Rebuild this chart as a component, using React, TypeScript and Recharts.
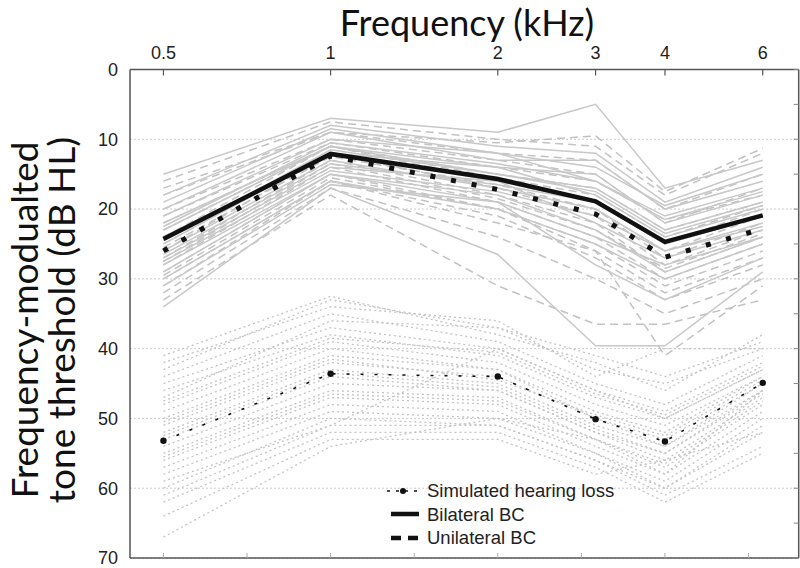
import {
  LineChart,
  Line,
  XAxis,
  YAxis,
  CartesianGrid,
  Legend,
} from 'recharts';

const FREQS = [0.5, 1, 2, 3, 4, 6];
const FREQ_LABELS = ['0.5', '1', '2', '3', '4', '6'];
const BOTTOM_TICKS = [-1, -0.5, 0, 0.5, 1, 1.5, 2, 2.5]; // half-octave marks, log2(kHz)
const Y_TICKS = [0, 10, 20, 30, 40, 50, 60, 70];
const RIGHT_TICKS = [0, 5, 10, 15, 20, 25, 30, 35, 40, 45, 50, 55, 60, 65, 70];

// group means (dB HL) at each frequency
const bilateralMean = [24.3, 12.1, 15.7, 18.9, 24.7, 20.9];
const unilateralMean = [26.0, 12.4, 17.2, 20.7, 26.9, 22.8];
const simulatedMean = [53.2, 43.6, 44.0, 50.1, 53.3, 44.9];

// individual listeners, bilateral BC (solid grey)
const bilateralIndividuals = [
  [15, 7, 9, 5, 17, 13],
  [18, 8, 11, 12, 19, 14],
  [19, 8.5, 12, 14, 19.5, 15],
  [20, 9, 13, 13, 20, 16],
  [21, 10, 12, 16, 21, 17],
  [22, 11, 14, 15, 22, 18],
  [22.5, 10.5, 13.5, 16, 21.5, 17.5],
  [23, 11, 15, 17, 23, 19],
  [24, 12, 14, 18, 24, 20],
  [24.5, 11.5, 15, 17.5, 23.5, 19.5],
  [25, 12, 16, 19, 25, 21],
  [26, 13, 17, 20, 26, 22],
  [26.5, 13.5, 16.5, 19, 25, 21],
  [27, 14, 16, 22, 27, 23],
  [27.5, 14.5, 17.5, 21, 26, 22.5],
  [28, 15, 18, 23, 29, 24],
  [30, 16, 20, 25, 30, 25],
  [31, 16.5, 19, 24, 28, 24],
  [29, 15, 19, 28, 33, 27],
  [34, 17, 26.5, 39.6, 39.6, 29],
];

// individual listeners, unilateral BC (dashed grey)
const unilateralIndividuals = [
  [16, 7.5, 10, 11, 18, 12],
  [17, 9, 10.5, 9.5, 17.5, 11.3],
  [18, 9, 12, 13, 20, 15],
  [20, 10, 13, 15, 22, 17],
  [21, 10.5, 14, 16, 21.5, 18],
  [22, 11, 15, 17, 23, 19],
  [23, 11, 15.5, 18, 24, 19.5],
  [24, 11, 16, 19, 25, 20],
  [25, 12, 17, 20, 27, 22],
  [25.5, 12.5, 16.5, 20, 26, 21],
  [26, 12, 17, 21, 28, 23],
  [27, 13, 18, 22, 29, 24],
  [27.5, 13.5, 18.5, 23, 28.5, 23.5],
  [28, 14, 19, 24, 30, 25],
  [29, 15, 20, 25, 31, 26],
  [29.5, 15.5, 20, 26, 32, 27],
  [30, 16, 21, 27, 33, 28],
  [32, 17, 24, 30, 35, 30],
  [31, 16, 22, 26, 41, 31],
  [33, 18, 31, 36.5, 36.5, 33],
];

// individual listeners, simulated hearing loss (dotted grey)
const simulatedIndividuals = [
  [41, 32.5, 38, 42, 46, 38],
  [42, 34, 36, 44, 40, 40],
  [43, 33, 37, 43, 45, 40],
  [44, 35, 39, 45, 48, 41],
  [45, 37, 40, 46, 49, 42],
  [46, 38, 41, 47, 50, 43],
  [47, 36, 37, 41, 44, 39],
  [47.5, 38.5, 40.5, 46.5, 49.5, 42.5],
  [48, 39, 42, 48, 51, 44],
  [49, 40, 43, 49, 52, 44],
  [50, 41, 43, 50, 53, 45],
  [50.5, 41.5, 44.5, 49.5, 52.5, 44.5],
  [51, 42, 44, 50, 54, 45],
  [52, 43, 45, 51, 54, 46],
  [52.5, 43.5, 45.5, 51.5, 55, 46.5],
  [53, 44, 46, 52, 55, 46],
  [54, 45, 46, 52, 56, 47],
  [55, 46, 47, 53, 57, 48],
  [55.5, 46.5, 47.5, 53, 56.5, 47.5],
  [56, 47, 48, 54, 58, 49],
  [57, 48, 49, 55, 59, 50],
  [58, 49, 50, 55, 60, 52],
  [59, 51, 40, 46, 50, 43],
  [60, 50, 51, 56, 61, 54],
  [61, 51, 51, 56, 60, 51],
  [62, 52, 52, 57, 62, 55],
  [64, 53, 53, 58, 56, 52],
  [67, 54, 50, 53, 58, 46],
];

const LEGEND_ITEMS = ['Simulated hearing loss', 'Bilateral BC', 'Unilateral BC'];

const data = FREQS.map((f, i) => {
  const row: Record<string, number> = {
    x: Math.log2(f),
    bilateral: bilateralMean[i],
    unilateral: unilateralMean[i],
    simulated: simulatedMean[i],
  };
  bilateralIndividuals.forEach((s, j) => (row[`b${j}`] = s[i]));
  unilateralIndividuals.forEach((s, j) => (row[`u${j}`] = s[i]));
  simulatedIndividuals.forEach((s, j) => (row[`s${j}`] = s[i]));
  return row;
});

const xTicks = FREQS.map((f) => Math.log2(f));
const freqLabel = (v: number) => FREQ_LABELS[xTicks.findIndex((t) => Math.abs(t - v) < 1e-6)] ?? '';
const blank = () => '';

const AXIS = '#555';
const tickFont = { fill: '#222', fontSize: 18, fontFamily: 'Liberation Sans, Arial, sans-serif' };

const LegendBox = () => (
  <div style={{ fontFamily: 'Liberation Sans, Arial, sans-serif', fontSize: 18.5, color: '#222', lineHeight: '23.5px' }}>
    {LEGEND_ITEMS.map((label, i) => (
      <div key={label} style={{ display: 'flex', alignItems: 'center' }}>
        <svg width={40} height={20} style={{ marginRight: 4 }}>
          {i === 0 && (
            <>
              <line x1={4} y1={10} x2={36} y2={10} stroke="#111" strokeWidth={1.5} strokeDasharray="3 6" />
              <circle cx={20} cy={10} r={3} fill="#111" />
            </>
          )}
          {i === 1 && <line x1={8} y1={10} x2={36} y2={10} stroke="#111" strokeWidth={4.5} />}
          {i === 2 && <line x1={8} y1={10} x2={36} y2={10} stroke="#111" strokeWidth={4.5} strokeDasharray="10 7" />}
        </svg>
        <span>{label}</span>
      </div>
    ))}
  </div>
);

export default function App() {
  return (
    <div style={{ position: 'relative', width: 800, height: 568, background: '#fff' }}>
      <style>{'body{margin:0;}'}</style>
      <LineChart width={800} height={568} data={data} margin={{ top: 39.5, right: 1.3, bottom: 9, left: 0 }}>
        <CartesianGrid vertical={false} stroke="#cdcdcd" strokeDasharray="2 2" />
        <XAxis
          dataKey="x"
          type="number"
          orientation="top"
          domain={[-1.2, 2.8]}
          ticks={xTicks}
          tickFormatter={freqLabel}
          height={30}
          tick={tickFont}
          tickLine={false}
          tickSize={6}
          tickMargin={5}
          axisLine={{ stroke: AXIS, strokeWidth: 1.5 }}
          allowDataOverflow
        />
        <XAxis
          xAxisId="topIn"
          dataKey="x"
          type="number"
          orientation="top"
          mirror
          domain={[-1.2, 2.8]}
          ticks={xTicks}
          tickFormatter={blank}
          tickSize={6}
          tickLine={{ stroke: AXIS, strokeWidth: 1.2 }}
          axisLine={false}
          allowDataOverflow
        />
        <XAxis
          xAxisId="bottom"
          dataKey="x"
          type="number"
          orientation="bottom"
          height={1}
          domain={[-1.2, 2.8]}
          ticks={BOTTOM_TICKS}
          tickFormatter={blank}
          tickSize={-5}
          tickMargin={0}
          tickLine={{ stroke: '#aaa', strokeWidth: 1 }}
          axisLine={{ stroke: AXIS, strokeWidth: 1.5 }}
          allowDataOverflow
        />
        <YAxis
          type="number"
          reversed
          domain={[0, 70]}
          ticks={Y_TICKS}
          width={130}
          tick={tickFont}
          tickLine={false}
          tickSize={6}
          tickMargin={6}
          axisLine={{ stroke: AXIS, strokeWidth: 1.5 }}
          allowDataOverflow
        />
        <YAxis
          yAxisId="rightIn"
          type="number"
          orientation="right"
          mirror
          reversed
          domain={[0, 70]}
          ticks={RIGHT_TICKS}
          tickFormatter={blank}
          tickSize={5}
          tickLine={{ stroke: '#888', strokeWidth: 1 }}
          axisLine={{ stroke: AXIS, strokeWidth: 1.5 }}
          allowDataOverflow
        />

        {simulatedIndividuals.map((_, j) => (
          <Line
            key={`s${j}`}
            dataKey={`s${j}`}
            type="linear"
            stroke="#c4c4c4"
            strokeWidth={1.3}
            strokeDasharray="2 3"
            dot={false}
            activeDot={false}
            isAnimationActive={false}
          />
        ))}
        {unilateralIndividuals.map((_, j) => (
          <Line
            key={`u${j}`}
            dataKey={`u${j}`}
            type="linear"
            stroke="#c2c2c2"
            strokeWidth={1.5}
            strokeDasharray="8 5"
            dot={false}
            activeDot={false}
            isAnimationActive={false}
          />
        ))}
        {bilateralIndividuals.map((_, j) => (
          <Line
            key={`b${j}`}
            dataKey={`b${j}`}
            type="linear"
            stroke="#c8c8c8"
            strokeWidth={1.5}
            dot={false}
            activeDot={false}
            isAnimationActive={false}
          />
        ))}

        <Line
          dataKey="simulated"
          type="linear"
          stroke="#111"
          strokeWidth={1.6}
          strokeDasharray="3 11"
          dot={{ r: 3.2, fill: '#111', stroke: '#111', strokeWidth: 0 }}
          activeDot={false}
          isAnimationActive={false}
        />
        <Line
          dataKey="unilateral"
          type="linear"
          stroke="#111"
          strokeWidth={5}
          strokeDasharray="5 16"
          dot={false}
          activeDot={false}
          isAnimationActive={false}
        />
        <Line
          dataKey="bilateral"
          type="linear"
          stroke="#111"
          strokeWidth={4.5}
          dot={false}
          activeDot={false}
          isAnimationActive={false}
        />
        <Legend
          layout="vertical"
          align="center"
          verticalAlign="middle"
          content={<LegendBox />}
          wrapperStyle={{ left: 383, top: 479, width: 260 }}
        />
      </LineChart>

      <div
        style={{
          position: 'absolute',
          left: 0,
          top: 3,
          width: 934,
          textAlign: 'center',
          fontFamily: 'Lato, sans-serif',
          fontSize: 36,
          lineHeight: '38px',
          color: '#111',
          pointerEvents: 'none',
        }}
      >
        Frequency (kHz)
      </div>
      <div
        style={{
          position: 'absolute',
          left: 45 - 250,
          top: 320 - 40,
          width: 500,
          height: 80,
          transform: 'rotate(-90deg)',
          textAlign: 'center',
          fontFamily: 'Lato, sans-serif',
          fontSize: 37,
          lineHeight: '37px',
          color: '#111',
          pointerEvents: 'none',
        }}
      >
        Frequency-modualted
        <br />
        tone threshold (dB HL)
      </div>
    </div>
  );
}
